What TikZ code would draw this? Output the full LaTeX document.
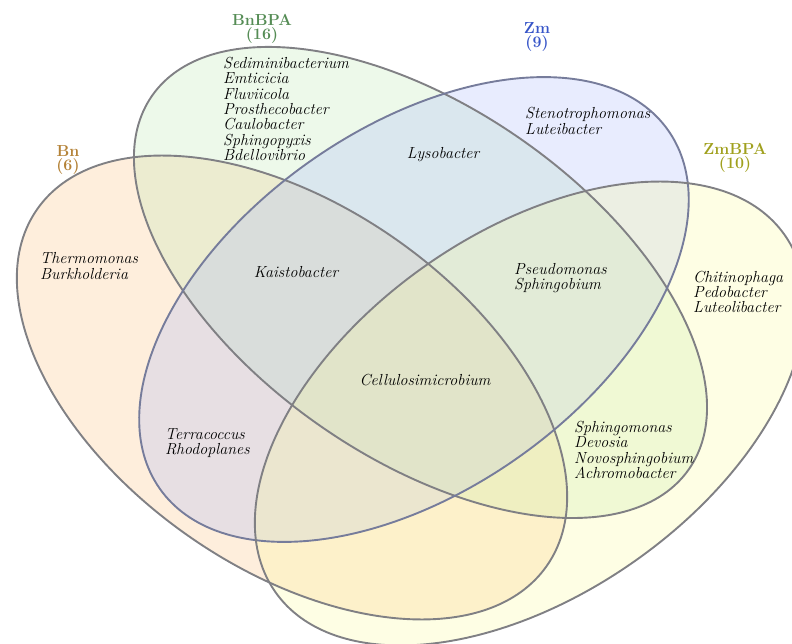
\documentclass[tikz,border=0pt]{standalone}
\definecolor{bnfill}{RGB}{250,190,120}
\definecolor{bnbpafill}{RGB}{185,230,175}
\definecolor{zmfill}{RGB}{165,180,250}
\definecolor{zmbpafill}{RGB}{250,250,150}
\definecolor{setline}{RGB}{128,128,132}
\definecolor{zmline}{RGB}{118,124,155}
\definecolor{bncol}{RGB}{180,130,55}
\definecolor{bnbpacol}{RGB}{85,140,85}
\definecolor{zmcol}{RGB}{55,85,200}
\definecolor{zmbpacol}{RGB}{160,160,30}
\begin{document}
\begin{tikzpicture}[x=1pt,y=-1pt,
  set line/.style={line width=1.9pt,draw=setline},
  set fill/.style={fill opacity=0.26},
  taxa/.style={font=\fontsize{16}{15.3}\selectfont\itshape,align=left,anchor=west,inner sep=0pt},
  one taxon/.style={font=\fontsize{16}{15.3}\selectfont\itshape,inner sep=0pt},
  set name/.style={font=\fontsize{16}{14.5}\selectfont\bfseries,align=center,inner sep=0pt}]
\useasboundingbox (0,0) rectangle (792,644);
\coordinate (bn) at (292,387.5);
\coordinate (bnbpa) at (420.5,282.5);
\coordinate (zm) at (414,309.5);
\coordinate (zmbpa) at (530,413.5);
\fill[bnfill,set fill,rotate around={-35:(bn)}] (bn) ellipse (311 and 181);
\fill[bnbpafill,set fill,rotate around={-34.8:(bnbpa)}] (bnbpa) ellipse (327 and 175);
\fill[zmfill,set fill,rotate around={35.2:(zm)}] (zm) ellipse (311 and 181);
\fill[zmbpafill,set fill,rotate around={35:(zmbpa)}] (zmbpa) ellipse (311 and 181);
\draw[set line,rotate around={-35:(bn)}] (bn) ellipse (311 and 181);
\draw[set line,rotate around={-34.8:(bnbpa)}] (bnbpa) ellipse (327 and 175);
\draw[set line,draw=zmline,rotate around={35.2:(zm)}] (zm) ellipse (311 and 181);
\draw[set line,rotate around={35:(zmbpa)}] (zmbpa) ellipse (311 and 181);
\node[set name,text=bnbpacol] (bnbpalabel) at (262,29) {BnBPA\\(16)};
\node[set name,text=zmcol] (zmlabel) at (537,37) {Zm\\(9)};
\node[set name,text=bncol] (bnlabel) at (68,160) {Bn\\(6)};
\node[set name,text=zmbpacol] (zmbpalabel) at (735,158) {ZmBPA\\(10)};
\node[taxa] (bnbpaonly) at (223,109) {Sediminibacterium\\Emticicia\\Fluviicola\\Prosthecobacter\\Caulobacter\\Sphingopyxis\\Bdellovibrio};
\node[taxa] (zmonly) at (525,121) {Stenotrophomonas\\Luteibacter};
\node[one taxon] (bnbpazm) at (443,155) {Lysobacter};
\node[taxa] (bnonly) at (40,266) {Thermomonas\\Burkholderia};
\node[one taxon] (bnbnbpazm) at (296,272) {Kaistobacter};
\node[taxa] (bnbpazmzmbpa) at (514,278) {Pseudomonas\\Sphingobium};
\node[taxa] (zmbpaonly) at (693,292) {Chitinophaga\\Pedobacter\\Luteolibacter};
\node[one taxon] (allsets) at (425,380) {Cellulosimicrobium};
\node[taxa] (bnzm) at (165,443) {Terracoccus\\Rhodoplanes};
\node[taxa] (bnbpazmbpa) at (574,450) {Sphingomonas\\Devosia\\Novosphingobium\\Achromobacter};
\end{tikzpicture}
\end{document}
